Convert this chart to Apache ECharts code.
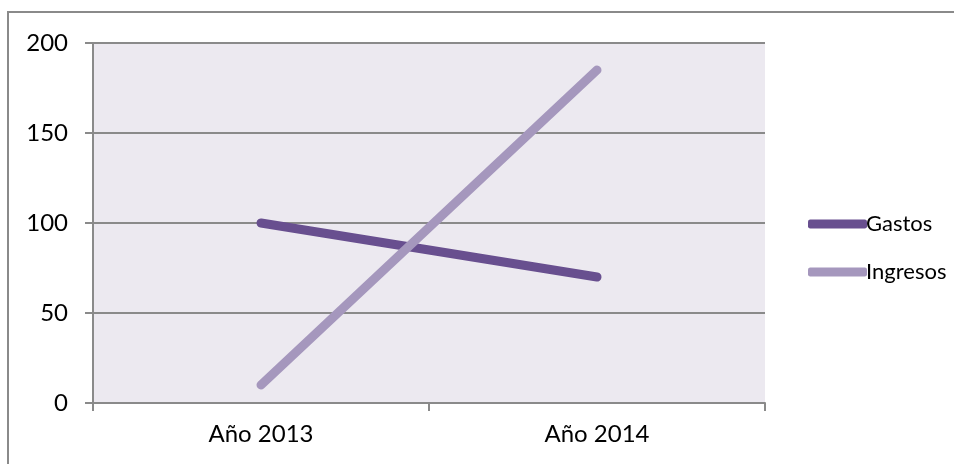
<!DOCTYPE html>
<html>
<head>
<meta charset="utf-8">
<script src="https://cdn.jsdelivr.net/npm/echarts@6/dist/echarts.min.js"></script>
<style>
  html, body { margin: 0; padding: 0; background: #ffffff; }
  #chart { width: 954px; height: 464px; }
</style>
</head>
<body>
<div id="chart"></div>
<script>
// Categories and series values
const categories = ['Año 2013', 'Año 2014'];
const gastos = [100, 70];
const ingresos = [10, 185];
const yTicks = { min: 0, max: 200, interval: 50 };

const FONT = 'Lato, "Open Sans", sans-serif';
const AXIS_GREY = '#8a8a8a';

const chart = echarts.init(document.getElementById('chart'), null, { renderer: 'canvas' });

chart.setOption({
  animation: false,
  backgroundColor: '#ffffff',
  graphic: [{
    type: 'rect',
    shape: { x: 8, y: 12, width: 1000, height: 500 },
    style: { fill: 'none', stroke: AXIS_GREY, lineWidth: 2 },
    silent: true,
    z: -1
  }],
  grid: {
    left: 93, top: 43, width: 672, height: 360,
    show: true, backgroundColor: '#ece9f0', borderWidth: 0
  },
  legend: {
    orient: 'vertical',
    left: 803, top: 207,
    itemWidth: 59, itemHeight: 9,
    itemGap: 24,
    icon: 'roundRect',
    textStyle: { fontFamily: FONT, fontSize: 22, color: '#000', lineHeight: 24, padding: [0, 0, 0, -6] },
    data: ['Gastos', 'Ingresos']
  },
  xAxis: {
    type: 'category',
    data: categories,
    boundaryGap: true,
    axisLine: { show: true, lineStyle: { color: AXIS_GREY, width: 2 } },
    axisTick: { show: true, length: 8, lineStyle: { color: AXIS_GREY, width: 2 } },
    axisLabel: { fontFamily: FONT, fontSize: 24, color: '#000', margin: 19 },
    splitLine: { show: false }
  },
  yAxis: {
    type: 'value',
    min: yTicks.min, max: yTicks.max, interval: yTicks.interval,
    axisLine: { show: true, lineStyle: { color: AXIS_GREY, width: 2 } },
    axisTick: { show: true, length: 8, lineStyle: { color: AXIS_GREY, width: 2 } },
    axisLabel: { fontFamily: FONT, fontSize: 24, color: '#000', margin: 25 },
    splitLine: { show: true, lineStyle: { color: AXIS_GREY, width: 2 } }
  },
  series: [
    {
      name: 'Gastos', type: 'line', data: gastos,
      symbol: 'none', color: '#684f8f',
      lineStyle: { width: 9, cap: 'round', color: '#684f8f' }
    },
    {
      name: 'Ingresos', type: 'line', data: ingresos,
      symbol: 'none', color: '#a597bd',
      lineStyle: { width: 9, cap: 'round', color: '#a597bd' }
    }
  ]
});
</script>
</body>
</html>
